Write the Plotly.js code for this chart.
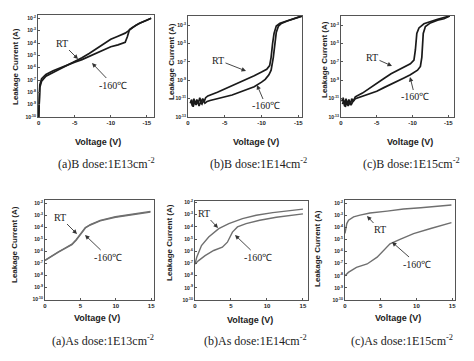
<!DOCTYPE html>
<html><head><meta charset="utf-8">
<script src="https://cdn.plot.ly/plotly-3.0.1.min.js"></script>
<style>html,body{margin:0;padding:0;background:#fff}#g{width:474px;height:361px}</style>
</head><body><div id="g"></div>
<script>
// ---------- DATA (voltage in V, leakage current in A) ----------
// (a) B dose 1E13
const vB13RT = [0,-0.05,-0.15,-0.4,-1,-2,-3,-4,-5,-6,-7,-8,-9,-10,-11,-12,-12.5,-13,-13.5,-14,-15,-15.6];
const iB13RT = [1e-10,1.58e-9,2.51e-8,7.94e-8,2.0e-7,3.98e-7,7.94e-7,1.41e-6,2.82e-6,6.31e-6,1.41e-5,3.55e-5,7.94e-5,2.0e-4,3.55e-4,6.31e-4,1.0e-3,1.78e-3,2.82e-3,3.98e-3,7.08e-3,1.0e-2];
const vB13LT = [0,-0.05,-0.15,-0.4,-1,-2,-3,-4,-5,-6,-7,-8,-9,-10,-11,-12,-12.3,-12.6,-13,-13.5,-14,-15,-15.6];
const iB13LT = [1e-10,3.16e-9,3.98e-8,1.26e-7,2.82e-7,5.62e-7,1.0e-6,1.78e-6,2.82e-6,4.47e-6,7.94e-6,1.41e-5,2.51e-5,5.01e-5,7.08e-5,1.12e-4,3.16e-4,1.26e-3,1.78e-3,2.82e-3,3.98e-3,7.08e-3,1.0e-2];
// (b) B dose 1E14
const vB14RT = [-0.4,-0.6,-0.8,-1.0,-1.2,-1.4,-1.6,-1.8,-2.0,-2.2,-2.4,-2.7,-4,-5,-6,-7,-8,-9,-10,-10.7,-11.1,-11.3,-11.5,-11.7,-12,-12.5,-13,-14,-15,-15.5];
const iB14RT = [6.31e-12,1.58e-12,1e-11,2.51e-12,7.94e-12,3.16e-12,1.26e-11,3.98e-12,1e-11,5.01e-12,1.26e-11,2.0e-11,5.01e-11,1.12e-10,2.51e-10,5.62e-10,1.26e-9,3.16e-9,7.94e-9,1.58e-8,3.98e-8,3.16e-7,1e-5,1.26e-4,7.94e-4,1.58e-3,2.24e-3,3.98e-3,7.08e-3,1e-2];
const vB14LT = [-0.3,-0.5,-0.7,-0.9,-1.1,-1.3,-1.5,-1.7,-1.9,-2.1,-2.3,-2.6,-3,-4,-5,-6,-7,-8,-9,-10,-10.5,-11,-11.3,-11.6,-11.8,-12,-12.3,-12.7,-13.5,-14,-15,-15.5];
const iB14LT = [3.16e-12,7.94e-12,1.26e-12,5.01e-12,2.0e-12,6.31e-12,1.58e-12,3.98e-12,2.51e-12,6.31e-12,3.16e-12,5.01e-12,6.31e-12,1e-11,1.58e-11,2.51e-11,5.01e-11,1e-10,2.0e-10,6.31e-10,1.26e-9,3.98e-9,1.26e-8,3.16e-7,1e-5,1.58e-4,7.94e-4,1.58e-3,2.82e-3,3.98e-3,7.08e-3,1e-2];
// (c) B dose 1E15
const vB15RT = [-0.1,-0.3,-0.5,-0.7,-0.9,-1.1,-1.3,-1.5,-1.7,-2.0,-3,-4,-5,-6,-7,-7.8,-8.8,-9.7,-10.2,-10.4,-10.6,-10.9,-11.6,-12.5,-13.5,-15.2];
const iB15RT = [5.01e-12,1.26e-11,1.58e-12,1e-11,2.51e-12,7.94e-12,2.0e-12,1e-11,5.01e-12,1.58e-11,3.98e-11,1.41e-10,5.01e-10,1.58e-9,5.01e-9,1.12e-8,2.82e-8,6.31e-8,1.58e-7,2.0e-6,1.26e-4,5.01e-4,1.41e-3,2.51e-3,4.47e-3,1e-2];
const vB15LT = [-0.2,-0.4,-0.6,-0.8,-1.0,-1.2,-1.4,-1.6,-2.0,-3,-4,-5,-6,-7,-7.8,-8.8,-9.7,-10.3,-10.7,-11.1,-11.3,-11.5,-11.8,-12.5,-13.5,-14.4,-15.2];
const iB15LT = [2.51e-12,6.31e-12,1.26e-12,3.98e-12,1.58e-12,5.01e-12,2.0e-12,3.98e-12,1e-11,1.78e-11,3.55e-11,6.31e-11,1.58e-10,3.55e-10,7.94e-10,1.78e-9,3.98e-9,7.08e-9,1.26e-8,3.16e-8,3.16e-7,1.26e-4,7.08e-4,1.78e-3,3.55e-3,5.01e-3,1e-2];
// (a) As dose 1E13
const vAs13 = [0,0.95,1.9,2.85,3.8,4.4,5.0,5.7,6.4,7.8,9.95,12.6,14.9];
const iAs13RT = [1.78e-7,4.07e-7,8.71e-7,1.78e-6,3.63e-6,8.32e-6,2.51e-5,8.91e-5,1.66e-4,3.80e-4,7.76e-4,1.38e-3,2.14e-3];
const iAs13LT = [1.78e-7,4.27e-7,9.33e-7,1.91e-6,3.98e-6,9.55e-6,3.02e-5,9.55e-5,1.58e-4,3.47e-4,6.92e-4,1.20e-3,1.86e-3];
// (b) As dose 1E14
const vAs14RT = [0,0.24,0.9,1.9,3.3,4.7,6.6,8.5,10.8,13.2,15];
const iAs14RT = [8.91e-8,3.16e-7,2.95e-6,1.45e-5,7.08e-5,1.82e-4,4.79e-4,8.91e-4,1.48e-3,2.19e-3,2.82e-3];
const vAs14LT = [0,0.5,1.4,2.6,3.8,4.5,5.2,5.9,7.1,9.0,11.3,13.2,15];
const iAs14LT = [8.91e-8,1.70e-7,4.37e-7,1.15e-6,2.14e-6,5.50e-6,3.72e-5,9.77e-5,1.82e-4,3.47e-4,6.17e-4,8.91e-4,1.15e-3];
// (c) As dose 1E15
const vAs15RT = [0,0.1,0.25,0.5,1.2,2.1,3.5,5.9,8.2,10.6,12.9,14.9];
const iAs15RT = [3.16e-5,1.0e-4,2.09e-4,3.98e-4,7.59e-4,1.05e-3,1.55e-3,2.24e-3,3.31e-3,4.27e-3,5.50e-3,7.24e-3];
const vAs15LT = [0,0.47,1.6,3.1,4.5,5.4,6.3,7.7,9.6,12.0,13.8,14.9];
const iAs15LT = [1.02e-8,1.91e-8,5.01e-8,9.55e-8,3.47e-7,1.26e-6,4.47e-6,1.02e-5,3.09e-5,8.13e-5,1.51e-4,2.51e-4];

// tick labels
const xTickNeg = [0,-5,-10,-15], xTickNegText = ['0','-5','-10','-15'];
const xTickPos = [0,5,10,15], xTickPosText = ['0','5','10','15'];
const yTickA = [1e-10,1e-9,1e-8,1e-7,1e-6,1e-5,1e-4,1e-3,1e-2];
const yTickAText = ['10<sup>-10</sup>','10<sup>-9</sup>','10<sup>-8</sup>','10<sup>-7</sup>','10<sup>-6</sup>','10<sup>-5</sup>','10<sup>-4</sup>','10<sup>-3</sup>','10<sup>-2</sup>'];
const yTickB = [1e-13,1e-11,1e-9,1e-7,1e-5,1e-3];
const yTickBText = ['10<sup>-13</sup>','10<sup>-11</sup>','10<sup>-9</sup>','10<sup>-7</sup>','10<sup>-5</sup>','10<sup>-3</sup>'];

const captions = ['(a)B dose:1E13cm<sup>-2</sup>','(b)B dose:1E14cm<sup>-2</sup>','(c)B dose:1E15cm<sup>-2</sup>',
                  '(a)As dose:1E13cm<sup>-2</sup>','(b)As dose:1E14cm<sup>-2</sup>','(c)As dose:1E15cm<sup>-2</sup>'];

// ---------- LAYOUT ----------
const W = 474, H = 361;
const px = x => x / W, py = y => 1 - y / H;
const topLine = {color:'#1a1a1a', width:1.7};
const botLine = {color:'#6f6f6f', width:1.4};
function tr(x, y, n, line){ return {x, y, xaxis:'x'+(n>1?n:''), yaxis:'y'+(n>1?n:''), mode:'lines', line, hoverinfo:'skip', showlegend:false}; }
const data = [
  tr(vB13RT,iB13RT,1,topLine), tr(vB13LT,iB13LT,1,topLine),
  tr(vB14RT,iB14RT,2,topLine), tr(vB14LT,iB14LT,2,topLine),
  tr(vB15RT,iB15RT,3,topLine), tr(vB15LT,iB15LT,3,topLine),
  tr(vAs13,iAs13RT,4,botLine), tr(vAs13,iAs13LT,4,botLine),
  tr(vAs14RT,iAs14RT,5,botLine), tr(vAs14LT,iAs14LT,5,botLine),
  tr(vAs15RT,iAs15RT,6,botLine), tr(vAs15LT,iAs15LT,6,botLine)
];
const tf = {family:'Liberation Sans, Arial, sans-serif', size:6, color:'#222', weight:700};
const yf = {family:'Liberation Sans, Arial, sans-serif', size:5, color:'#222', weight:700};
function xa(l, r, range, vals, text){ return {domain:[px(l),px(r)], range, tickvals:vals, ticktext:text, showline:true, mirror:true, linecolor:'#555', linewidth:1, showgrid:false, zeroline:false, ticks:'inside', ticklen:2, tickcolor:'#555', tickfont:tf, fixedrange:true}; }
function ya(t, b, range, vals, text, n){ return {domain:[py(b),py(t)], type:'log', range, tickvals:vals, ticktext:text, showline:true, mirror:true, linecolor:'#555', linewidth:1, showgrid:false, zeroline:false, ticks:'inside', ticklen:2, tickcolor:'#555', tickfont:yf, anchor:'x'+(n>1?n:''), fixedrange:true}; }
const layout = {
  width:W, height:H, margin:{l:0,r:0,t:0,b:0}, paper_bgcolor:'#fff', plot_bgcolor:'#fff', showlegend:false,
  xaxis:  Object.assign(xa(38,154,[0.1,-16],xTickNeg,xTickNegText),{anchor:'y'}),
  yaxis:  ya(15,117,[-10,-1.73],yTickA,yTickAText,1),
  xaxis2: Object.assign(xa(188,302,[0,-15.5],xTickNeg,xTickNegText),{anchor:'y2'}),
  yaxis2: ya(16,117,[-13,-2.0],yTickB,yTickBText,2),
  xaxis3: Object.assign(xa(341,454,[0,-15.8],xTickNeg,xTickNegText),{anchor:'y3'}),
  yaxis3: ya(16,117,[-13,-2.0],yTickB,yTickBText,3),
  xaxis4: Object.assign(xa(45,154,[0,15.4],xTickPos,xTickPosText),{anchor:'y4'}),
  yaxis4: ya(200,300,[-10.05,-1.72],yTickA,yTickAText,4),
  xaxis5: Object.assign(xa(195,308,[0,15.7],xTickPos,xTickPosText),{anchor:'y5'}),
  yaxis5: ya(201,300,[-10.0,-1.88],yTickA,yTickAText,5),
  xaxis6: Object.assign(xa(345,455,[0,15.4],xTickPos,xTickPosText),{anchor:'y6'}),
  yaxis6: ya(200,300,[-10.0,-1.73],yTickA,yTickAText,6),
  annotations: []
};
const serif = 'Liberation Serif, Times New Roman, serif';
function txt(x, y, text, size, family, extra){ layout.annotations.push(Object.assign({xref:'paper', yref:'paper', x:px(x), y:py(y), text, showarrow:false, xanchor:'center', yanchor:'middle', font:{family, size, color:'#222'}}, extra||{})); }
function arrowLbl(tx, ty, hx, hy, text){ layout.annotations.push({xref:'paper', yref:'paper', x:px(hx), y:py(hy), ax:tx-hx, ay:ty-hy, text, showarrow:true, arrowhead:2, arrowsize:1, arrowwidth:0.9, arrowcolor:'#333', standoff:0, font:{family:serif, size:10, color:'#222'}}); }
// curve labels
arrowLbl(62,43,78,59,'RT');   arrowLbl(113,85,92,63,'-160℃');
arrowLbl(218,60,246,71,'RT'); arrowLbl(266,106,257,85,'-160℃');
arrowLbl(372,57,392,66,'RT'); arrowLbl(415,97,410,77,'-160℃');
arrowLbl(60,217,77,234,'RT'); arrowLbl(108,257,85,235,'-160℃');
arrowLbl(204,213,218,228,'RT'); arrowLbl(258,257,235,235,'-160℃');
arrowLbl(380,230,367,216,'RT'); arrowLbl(417,264,392,242,'-160℃');
// axis titles
const bold = {family:'Liberation Sans, Arial, sans-serif', size:8, color:'#222', weight:700};
[[15,67],[171,62],[325,60],[15,245],[169,243],[317,249]].forEach(p => layout.annotations.push({xref:'paper',yref:'paper',x:px(p[0]),y:py(p[1]),text:'Leakage Current (A)',showarrow:false,textangle:-90,xanchor:'center',yanchor:'middle',font:bold}));
[[98,142],[256,142],[410,142],[97,318],[250,320],[398,318]].forEach(p => layout.annotations.push({xref:'paper',yref:'paper',x:px(p[0]),y:py(p[1]),text:'Voltage (V)',showarrow:false,xanchor:'center',yanchor:'middle',font:Object.assign({},bold,{size:9})}));
// captions
[[106,163],[258,163],[411,163],[103,340],[255,340],[402,340]].forEach((p,i) => txt(p[0],p[1],captions[i],12,serif));
Plotly.newPlot('g', data, layout, {staticPlot:true, displayModeBar:false});
</script></body></html>
